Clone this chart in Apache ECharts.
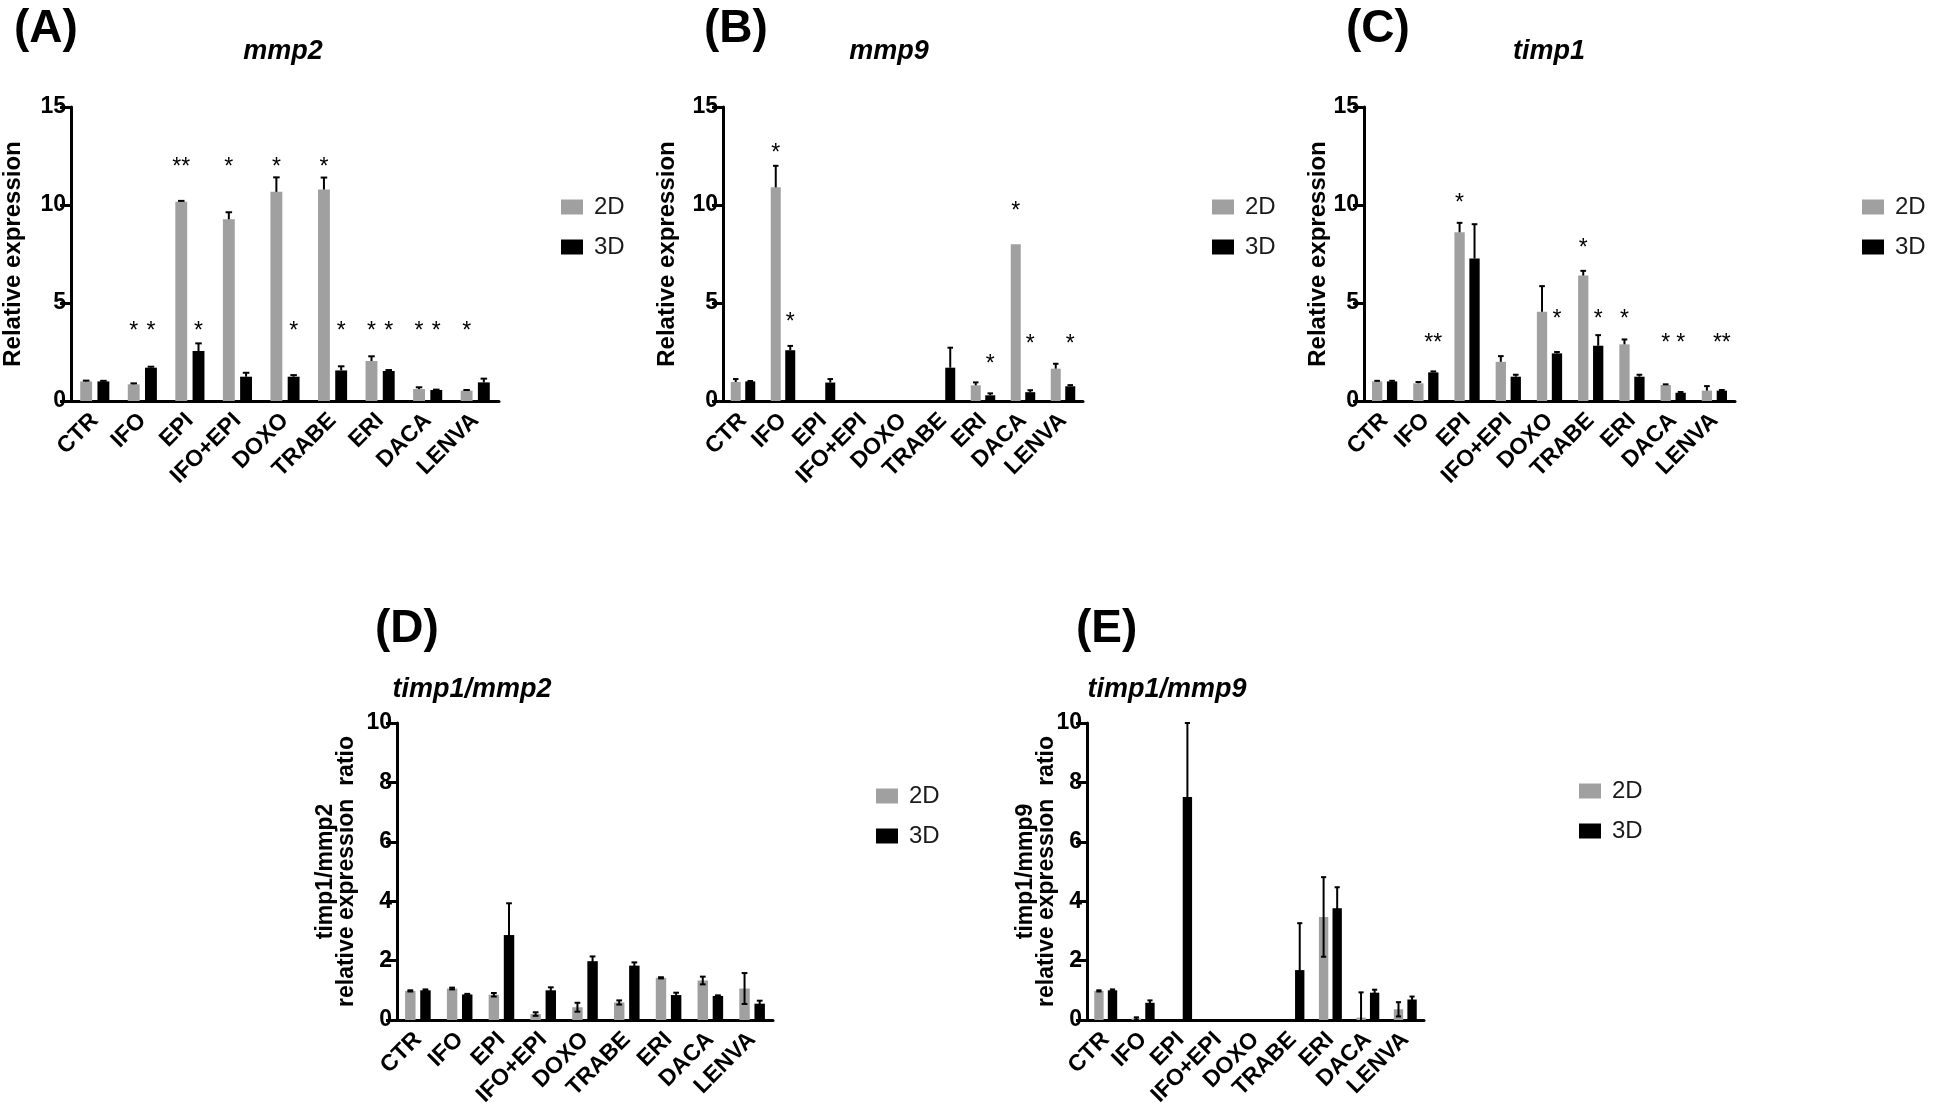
<!DOCTYPE html>
<html><head><meta charset="utf-8">
<script src="https://cdn.jsdelivr.net/npm/echarts/dist/echarts.min.js"></script>
<style>html,body{margin:0;padding:0;background:#fff}#c{width:1946px;height:1115px}</style>
</head><body><div id="c"></div>
<script>
// ---------- data ----------
const categories = ['CTR','IFO','EPI','IFO+EPI','DOXO','TRABE','ERI','DACA','LENVA'];
const seriesNames = ['2D','3D'];

// (A) mmp2
const mmp2_2D    = [1.00, 0.85, 10.17, 9.27, 10.67, 10.79, 2.04, 0.61, 0.53];
const mmp2_2Derr = [0.04, 0.05, 0.04, 0.36, 0.74, 0.61, 0.24, 0.09, 0.03];
const mmp2_3D    = [1.00, 1.70, 2.55, 1.24, 1.24, 1.56, 1.53, 0.56, 0.95];
const mmp2_3Derr = [0.03, 0.05, 0.39, 0.20, 0.08, 0.21, 0.05, 0.02, 0.19];
const mmp2Stars = [
  ['IFO','2D',3.85,'*'],['IFO','3D',3.85,'*'],
  ['EPI','2D',12.2,'**'],['EPI','3D',3.85,'*'],
  ['IFO+EPI','2D',12.2,'*'],
  ['DOXO','2D',12.2,'*'],['DOXO','3D',3.85,'*'],
  ['TRABE','2D',12.2,'*'],['TRABE','3D',3.85,'*'],
  ['ERI','2D',3.85,'*'],['ERI','3D',3.85,'*'],
  ['DACA','2D',3.85,'*'],['DACA','3D',3.85,'*'],
  ['LENVA','2D',3.85,'*']
];

// (B) mmp9
const mmp9_2D    = [0.97, 10.90, 0, 0, 0, 0, 0.80, 8.00, 1.65];
const mmp9_2Derr = [0.15, 1.10, 0, 0, 0, 0, 0.15, 0, 0.25];
const mmp9_3D    = [1.00, 2.59, 0.94, 0, 0, 1.70, 0.29, 0.45, 0.75];
const mmp9_3Derr = [0.02, 0.22, 0.18, 0, 0, 1.02, 0.10, 0.10, 0.06];
const mmp9Stars = [
  ['IFO','2D',12.95,'*'],['IFO','3D',4.3,'*'],
  ['ERI','3D',2.16,'*'],
  ['DACA','2D',9.95,'*'],['DACA','3D',3.2,'*'],
  ['LENVA','3D',3.2,'*']
];

// (C) timp1
const timp1_2D    = [1.00, 0.90, 8.61, 2.00, 4.55, 6.40, 2.89, 0.82, 0.53];
const timp1_2Derr = [0.03, 0.07, 0.48, 0.29, 1.31, 0.24, 0.25, 0.03, 0.23];
const timp1_3D    = [1.00, 1.46, 7.27, 1.24, 2.43, 2.82, 1.24, 0.42, 0.53];
const timp1_3Derr = [0.03, 0.05, 1.75, 0.10, 0.07, 0.54, 0.10, 0.04, 0.03];
const timp1Stars = [
  ['EPI','2D',10.38,'*'],
  ['TRABE','2D',8.07,'*'],
  ['DOXO','3D',4.47,'*'],['TRABE','3D',4.47,'*'],['ERI','2D',4.47,'*'],
  ['IFO','3D',3.23,'**'],
  ['DACA','2D',3.23,'*'],['DACA','3D',3.23,'*'],
  ['LENVA','3D',3.23,'**']
];

// (D) timp1/mmp2
const ratio2_2D    = [0.98, 1.06, 0.85, 0.20, 0.43, 0.59, 1.42, 1.33, 1.06];
const ratio2_2Derr = [0.02, 0.03, 0.06, 0.06, 0.15, 0.07, 0.02, 0.13, 0.52];
const ratio2_3D    = [1.00, 0.86, 2.86, 1.00, 1.98, 1.83, 0.84, 0.81, 0.55];
const ratio2_3Derr = [0.03, 0.02, 1.07, 0.10, 0.16, 0.11, 0.08, 0.02, 0.10];

// (E) timp1/mmp9
const ratio9_2D    = [0.98, 0.05, 0, 0, 0, 0, 3.47, 0.08, 0.36];
const ratio9_2Derr = [0.02, 0.04, 0, 0, 0, 0, 1.34, 0.85, 0.24];
const ratio9_3D    = [1.00, 0.58, 7.51, 0, 0, 1.68, 3.76, 0.92, 0.69];
const ratio9_3Derr = [0.03, 0.08, 2.49, 0, 0, 1.58, 0.71, 0.10, 0.10];

const yMaxTop = 15, yIntTop = 5;
const yMaxBottom = 10, yIntBottom = 2;

// ---------- layout ----------
const FF = '"Liberation Sans", Arial, Helvetica, sans-serif';
const panels = [
  {letter:'(A)', title:'mmp2', ylab:['Relative expression'],
   grid:{left:71, top:107, width:428, height:294}, max:yMaxTop, interval:yIntTop,
   s2:mmp2_2D, e2:mmp2_2Derr, s3:mmp2_3D, e3:mmp2_3Derr, stars:mmp2Stars, both:false,
   letterPos:[14,29], titlePos:[283,52], ylabX:[13], ylabSize:24, leg:[561,195]},
  {letter:'(B)', title:'mmp9', ylab:['Relative expression'],
   grid:{left:723, top:107, width:360, height:294}, max:yMaxTop, interval:yIntTop,
   s2:mmp9_2D, e2:mmp9_2Derr, s3:mmp9_3D, e3:mmp9_3Derr, stars:mmp9Stars, both:false,
   letterPos:[704,29], titlePos:[889,52], ylabX:[667], ylabSize:24, leg:[1212,195]},
  {letter:'(C)', title:'timp1', ylab:['Relative expression'],
   grid:{left:1364, top:107, width:371, height:294}, max:yMaxTop, interval:yIntTop,
   s2:timp1_2D, e2:timp1_2Derr, s3:timp1_3D, e3:timp1_3Derr, stars:timp1Stars, both:false,
   letterPos:[1346,29], titlePos:[1549,52], ylabX:[1318], ylabSize:24, leg:[1862,195]},
  {letter:'(D)', title:'timp1/mmp2', ylab:['timp1/mmp2','relative expression  ratio'],
   grid:{left:397, top:723, width:376, height:297}, max:yMaxBottom, interval:yIntBottom,
   s2:ratio2_2D, e2:ratio2_2Derr, s3:ratio2_3D, e3:ratio2_3Derr, stars:[], both:true,
   letterPos:[375,629], titlePos:[472,690], ylabX:[326,347], ylabSize:23, leg:[876,784]},
  {letter:'(E)', title:'timp1/mmp9', ylab:['timp1/mmp9','relative expression  ratio'],
   grid:{left:1087, top:723, width:337, height:297}, max:yMaxBottom, interval:yIntBottom,
   s2:ratio9_2D, e2:ratio9_2Derr, s3:ratio9_3D, e3:ratio9_3Derr, stars:[], both:true,
   letterPos:[1076,629], titlePos:[1167,690], ylabX:[1026,1047], ylabSize:23, leg:[1579,779]}
];

const BARW = 0.25, GAP = 0.45;
function sideOffset(api, side) {
  const cw = api.size([1, 0])[0];
  const bw = cw * BARW;
  return side * bw * (1 + GAP) / 2;
}
function errRender(params, api) {
  const cat = api.value(0), v = api.value(1), e = api.value(2), side = api.value(3), both = api.value(4);
  if (!(e > 0)) return null;
  const cw = api.size([1, 0])[0];
  const bw = cw * BARW;
  const x = api.coord([cat, v])[0] + sideOffset(api, side);
  const yTop = api.coord([cat, v + e])[1];
  const yMid = api.coord([cat, v])[1];
  const lowV = Math.max(v - e, 0);
  const yBot = api.coord([cat, lowV])[1];
  const cap = bw * 0.55;
  const st = {stroke:'#000', lineWidth:2};
  const ch = [
    {type:'line', shape:{x1:x, y1:both ? yBot : yMid, x2:x, y2:yTop}, style:st},
    {type:'line', shape:{x1:x - cap/2, y1:yTop, x2:x + cap/2, y2:yTop}, style:st}
  ];
  if (both && v - e > 0) ch.push({type:'line', shape:{x1:x - cap/2, y1:yBot, x2:x + cap/2, y2:yBot}, style:st});
  return {type:'group', children:ch};
}

const grids = [], xAxes = [], yAxes = [], series = [], legends = [], graphics = [];
const axisLineStyle = {color:'#000', width:3};

panels.forEach((p, i) => {
  grids.push(Object.assign({containLabel:false}, p.grid));
  xAxes.push({
    type:'category', gridIndex:i, data:categories,
    axisLine:{lineStyle:axisLineStyle},
    axisTick:{alignWithLabel:true, length:12, lineStyle:axisLineStyle},
    axisLabel:{rotate:45, interval:0, fontSize:23, fontWeight:'bold', color:'#000', fontFamily:FF, margin:16, hideOverlap:false}
  });
  yAxes.push({
    type:'value', gridIndex:i, min:0, max:p.max, interval:p.interval,
    axisLine:{show:true, lineStyle:axisLineStyle},
    axisTick:{show:true, length:11, lineStyle:axisLineStyle},
    splitLine:{show:false},
    axisLabel:{fontSize:23, fontWeight:'bold', color:'#000', fontFamily:FF, margin:5}
  });
  series.push({type:'bar', name:seriesNames[0], xAxisIndex:i, yAxisIndex:i, data:p.s2,
    barWidth:(BARW*100)+'%', barGap:(GAP*100)+'%', itemStyle:{color:'#a0a0a0'}, z:2});
  series.push({type:'bar', name:seriesNames[1], xAxisIndex:i, yAxisIndex:i, data:p.s3,
    barWidth:(BARW*100)+'%', barGap:(GAP*100)+'%', itemStyle:{color:'#000000'}, z:2});
  const errData = [];
  categories.forEach((c, j) => {
    errData.push([j, p.s2[j], p.e2[j], -1, p.both ? 1 : 0]);
    errData.push([j, p.s3[j], p.e3[j], 1, p.both ? 1 : 0]);
  });
  series.push({type:'custom', xAxisIndex:i, yAxisIndex:i, data:errData, encode:{x:0, y:1},
    renderItem:errRender, z:5, silent:true});
  if (p.stars.length) {
    const stars = p.stars;
    const starData = stars.map(s => [categories.indexOf(s[0]), s[2], s[1] === '2D' ? -1 : 1]);
    series.push({type:'custom', xAxisIndex:i, yAxisIndex:i, data:starData, encode:{x:0, y:1}, z:6, silent:true,
      renderItem:function(params, api){
        const pt = api.coord([api.value(0), api.value(1)]);
        const x = pt[0] + sideOffset(api, api.value(2));
        return {type:'text', x:x, y:pt[1] + 6,
          style:{text:stars[params.dataIndex][3], fill:'#000', font:'23px ' + FF,
                 textAlign:'center', textVerticalAlign:'middle', align:'center', verticalAlign:'middle'}};
      }});
  }
  legends.push({
    data:seriesNames, orient:'vertical', left:p.leg[0], top:p.leg[1], padding:0,
    itemWidth:22, itemHeight:15, itemGap:16, icon:'rect', selectedMode:false,
    textStyle:{fontSize:24, color:'#1a1a1a', fontFamily:FF, lineHeight:24, padding:[0,0,0,6]}
  });
  graphics.push({type:'text', x:p.letterPos[0], y:p.letterPos[1],
    style:{text:p.letter, font:'bold 46px ' + FF, fill:'#000', textAlign:'left', textVerticalAlign:'middle', align:'left', verticalAlign:'middle'}});
  graphics.push({type:'text', x:p.titlePos[0], y:p.titlePos[1],
    style:{text:p.title, font:'italic bold 27px ' + FF, fill:'#000', textAlign:'center', textVerticalAlign:'middle', align:'center', verticalAlign:'middle'}});
  const cy = p.grid.top + p.grid.height / 2;
  p.ylab.forEach((t, k) => {
    graphics.push({type:'text', x:p.ylabX[k], y:cy, rotation:Math.PI/2,
      style:{text:t, font:'bold ' + p.ylabSize + 'px ' + FF, fill:'#000', textAlign:'center', textVerticalAlign:'middle', align:'center', verticalAlign:'middle'}});
  });
});

const chart = echarts.init(document.getElementById('c'), null, {renderer:'canvas'});
chart.setOption({
  animation:false, backgroundColor:'#fff',
  grid:grids, xAxis:xAxes, yAxis:yAxes, series:series, legend:legends, graphic:graphics
});
</script></body></html>
